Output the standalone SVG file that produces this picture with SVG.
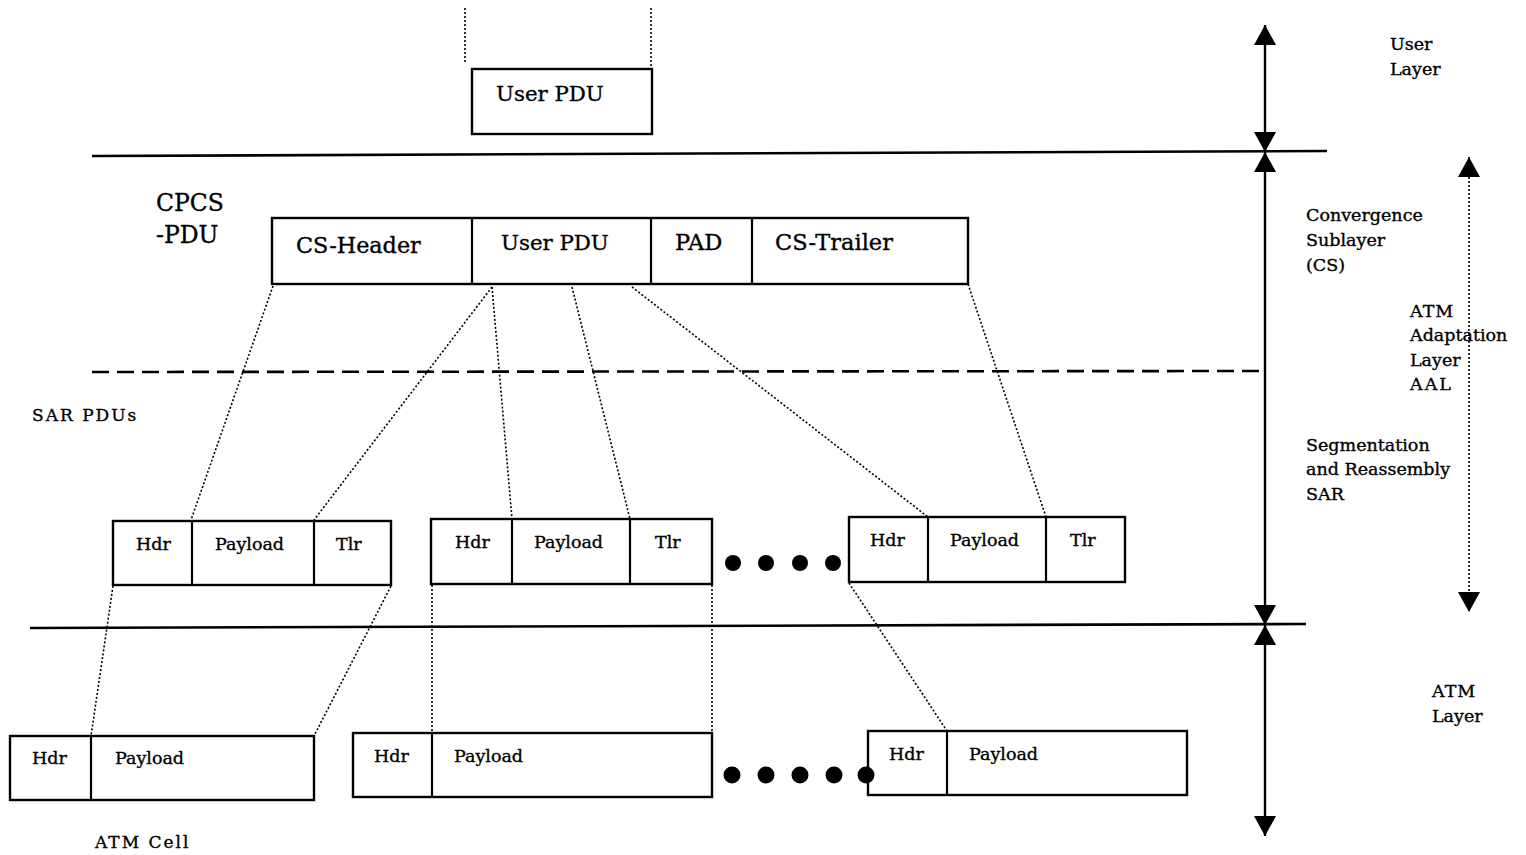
<svg xmlns="http://www.w3.org/2000/svg" width="1526" height="855" viewBox="0 0 1526 855">
  <style>
    .box { fill: #fff; stroke: #000; stroke-width: 2.4; }
    .div { stroke: #000; stroke-width: 2.2; }
    .t { font-family: "DejaVu Serif", "Liberation Serif", serif; fill: #000; stroke: #000; stroke-width: 0.35; }
    .big { font-size: 21.3px; }
    .mid { font-size: 17.5px; }
    .lbl { font-size: 17.5px; }
    .layer { stroke: #000; stroke-width: 2.6; fill: none; }
    .dot { stroke: #000; stroke-width: 1.6; stroke-dasharray: 2 2; fill: none; }
    .axis { stroke: #000; stroke-width: 2.4; fill: none; }
  </style>
  <defs>
    <marker id="tri" viewBox="0 0 20 22" refX="20" refY="11" markerWidth="20" markerHeight="22" markerUnits="userSpaceOnUse" orient="auto-start-reverse">
      <path d="M0,0 L20,11 L0,22 Z" fill="#000"/>
    </marker>
  </defs>
  <rect width="1526" height="855" fill="#fff"/>

  <!-- layer boundaries -->
  <g id="layer-lines">
    <line class="layer" x1="92" y1="156" x2="1327" y2="151"/>
    <line class="layer" x1="92" y1="372" x2="1262" y2="371" stroke-dasharray="17 8"/>
    <line class="layer" x1="30" y1="628" x2="1306" y2="624"/>
  </g>

  <!-- vertical layer extent arrows -->
  <g id="axis">
    <line class="axis" x1="1265" y1="25" x2="1265" y2="152" marker-start="url(#tri)" marker-end="url(#tri)"/>
    <line class="axis" x1="1265" y1="152" x2="1265" y2="625" marker-start="url(#tri)" marker-end="url(#tri)"/>
    <line class="axis" x1="1265" y1="625" x2="1265" y2="836" marker-start="url(#tri)" marker-end="url(#tri)"/>
    <line class="dot" x1="1469" y1="157" x2="1469" y2="612" stroke-width="2" marker-start="url(#tri)" marker-end="url(#tri)"/>
  </g>

  <!-- dotted mapping connectors -->
  <g id="connectors">
    <line class="dot" x1="465" y1="8" x2="465" y2="62"/>
    <line class="dot" x1="651" y1="8" x2="651" y2="66"/>
    <line class="dot" x1="273" y1="286" x2="191" y2="520"/>
    <line class="dot" x1="492" y1="287" x2="314" y2="520"/>
    <line class="dot" x1="492" y1="287" x2="512" y2="519"/>
    <line class="dot" x1="572" y1="287" x2="630" y2="519"/>
    <line class="dot" x1="632" y1="287" x2="928" y2="517"/>
    <line class="dot" x1="968" y1="284" x2="1046" y2="517"/>
    <line class="dot" x1="113" y1="586" x2="91" y2="736"/>
    <line class="dot" x1="391" y1="586" x2="314" y2="736"/>
    <line class="dot" x1="432" y1="585" x2="432" y2="733"/>
    <line class="dot" x1="712" y1="585" x2="712" y2="733"/>
    <line class="dot" x1="849" y1="583" x2="947" y2="731"/>
  </g>

  <!-- user layer PDU -->
  <g id="user-pdu">
    <rect class="box" x="472" y="69" width="180" height="65"/>
    <text class="t big" x="496" y="101">User PDU</text>
  </g>

  <!-- convergence sublayer PDU -->
  <g id="cpcs-pdu">
    <text class="t" x="156" y="211" font-size="23.5">CPCS</text>
    <text class="t" x="156" y="243" font-size="23.5">-PDU</text>
    <rect class="box" x="272" y="218" width="696" height="66"/>
    <line class="div" x1="472" y1="218" x2="472" y2="284"/>
    <line class="div" x1="651" y1="218" x2="651" y2="284"/>
    <line class="div" x1="752" y1="218" x2="752" y2="284"/>
    <text class="t" x="296" y="253" font-size="22.3">CS-Header</text>
    <text class="t big" x="501" y="250">User PDU</text>
    <text class="t" x="675" y="250" font-size="22.5">PAD</text>
    <text class="t" x="775" y="250" font-size="22.5">CS-Trailer</text>
  </g>

  <g id="sar-label">
    <text class="t" x="32" y="421" font-size="17" letter-spacing="2">SAR PDUs</text>
  </g>

  <!-- SAR PDUs -->
  <g id="sar-1">
    <rect class="box" x="113" y="521" width="278" height="64"/>
    <line class="div" x1="192" y1="521" x2="192" y2="585"/>
    <line class="div" x1="314" y1="521" x2="314" y2="585"/>
    <text class="t mid" x="136" y="550">Hdr</text>
    <text class="t mid" x="215" y="550">Payload</text>
    <text class="t mid" x="336" y="550">Tlr</text>
  </g>
  <g id="sar-2">
    <rect class="box" x="431" y="519" width="281" height="65"/>
    <line class="div" x1="512" y1="519" x2="512" y2="584"/>
    <line class="div" x1="630" y1="519" x2="630" y2="584"/>
    <text class="t mid" x="455" y="548">Hdr</text>
    <text class="t mid" x="534" y="548">Payload</text>
    <text class="t mid" x="655" y="548">Tlr</text>
  </g>
  <g id="sar-ellipsis">
    <circle cx="733" cy="563" r="8"/>
    <circle cx="766" cy="563" r="8"/>
    <circle cx="800" cy="563" r="8"/>
    <circle cx="833" cy="563" r="8"/>
  </g>
  <g id="sar-n">
    <rect class="box" x="849" y="517" width="276" height="65"/>
    <line class="div" x1="928" y1="517" x2="928" y2="582"/>
    <line class="div" x1="1046" y1="517" x2="1046" y2="582"/>
    <text class="t mid" x="870" y="546">Hdr</text>
    <text class="t mid" x="950" y="546">Payload</text>
    <text class="t mid" x="1070" y="546">Tlr</text>
  </g>

  <!-- ATM cells -->
  <g id="cell-1">
    <rect class="box" x="10" y="736" width="304" height="64"/>
    <line class="div" x1="91" y1="736" x2="91" y2="800"/>
    <text class="t mid" x="32" y="764">Hdr</text>
    <text class="t mid" x="115" y="764">Payload</text>
  </g>
  <g id="cell-2">
    <rect class="box" x="353" y="733" width="359" height="64"/>
    <line class="div" x1="432" y1="733" x2="432" y2="797"/>
    <text class="t mid" x="374" y="762">Hdr</text>
    <text class="t mid" x="454" y="762">Payload</text>
  </g>
  <g id="cell-ellipsis">
    <circle cx="732" cy="775" r="8.5"/>
    <circle cx="766" cy="775" r="8.5"/>
    <circle cx="800" cy="775" r="8.5"/>
    <circle cx="834" cy="775" r="8.5"/>
  </g>
  <g id="cell-n">
    <rect class="box" x="868" y="731" width="319" height="64"/>
    <line class="div" x1="947" y1="731" x2="947" y2="795"/>
    <text class="t mid" x="889" y="760">Hdr</text>
    <text class="t mid" x="969" y="760">Payload</text>
    <circle cx="866" cy="775" r="8.5"/>
  </g>
  <g id="cell-label">
    <text class="t" x="95" y="848" font-size="17" letter-spacing="2">ATM Cell</text>
  </g>

  <!-- layer names -->
  <g id="layer-names">
    <text class="t lbl" x="1390" y="50">User</text>
    <text class="t lbl" x="1390" y="75">Layer</text>
    <text class="t lbl" x="1306" y="221">Convergence</text>
    <text class="t lbl" x="1306" y="246">Sublayer</text>
    <text class="t lbl" x="1306" y="271">(CS)</text>
    <text class="t lbl" x="1410" y="317" letter-spacing="1">ATM</text>
    <text class="t lbl" x="1410" y="341">Adaptation</text>
    <text class="t lbl" x="1410" y="366">Layer</text>
    <text class="t lbl" x="1410" y="390" letter-spacing="2">AAL</text>
    <text class="t lbl" x="1306" y="451">Segmentation</text>
    <text class="t lbl" x="1306" y="475">and Reassembly</text>
    <text class="t lbl" x="1306" y="500">SAR</text>
    <text class="t lbl" x="1432" y="697" letter-spacing="1">ATM</text>
    <text class="t lbl" x="1432" y="722">Layer</text>
  </g>
</svg>
